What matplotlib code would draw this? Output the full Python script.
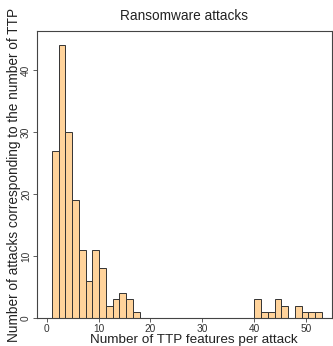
import matplotlib
matplotlib.use("Agg")
import matplotlib.pyplot as plt
import numpy as np

plt.rcParams['font.family'] = ['Liberation Sans', 'DejaVu Sans']

# histogram: 40 bins of width 1.3 starting at 1
bin_start = 1.0
bin_width = 1.3
counts = [27, 44, 30, 19, 11, 6, 11, 8, 2, 3, 4, 3, 1,
          0, 0, 0, 0, 0, 0, 0, 0, 0, 0, 0, 0, 0, 0, 0, 0, 0,
          3, 1, 1, 3, 2, 0, 2, 1, 1, 1]
xticks = [0, 10, 20, 30, 40, 50]
yticks = [0, 10, 20, 30, 40]

lefts = bin_start + bin_width * np.arange(len(counts))

fig = plt.figure(figsize=(3.33, 3.46), dpi=100)
ax = fig.add_axes([37.3 / 333, 1 - 318 / 346, (331.7 - 37.3) / 333, (318 - 31) / 346])

ax.bar(lefts, counts, width=bin_width, align='edge', color='#FFD39B',
       edgecolor='#333333', linewidth=0.7)

ax.set_xlim(-1.8, 54.9)
ax.set_ylim(0, 46.3)
ax.set_xticks(xticks)
ax.set_yticks(yticks)
ax.set_yticklabels([str(v) for v in yticks], rotation=90, va='center')
ax.tick_params(axis='both', labelsize=7.3, colors='#444444', length=3, width=0.6,
               labelcolor='#333333', pad=1.5)
for s in ax.spines.values():
    s.set_color('#444444')
    s.set_linewidth(0.8)

ax.set_title('Ransomware attacks', fontsize=9.8, color='#222222', pad=8)
ax.set_xlabel('Number of TTP features per attack', fontsize=9.7, color='#222222',
              labelpad=0, x=0.53)
ax.set_ylabel('Number of attacks corresponding to the number of TTP', fontsize=9.8,
              color='#222222', labelpad=0)

fig.savefig('out.png', dpi=100)
